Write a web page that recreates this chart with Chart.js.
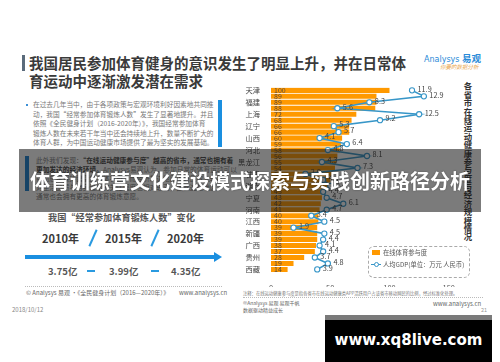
<!DOCTYPE html>
<html><head><meta charset="utf-8">
<script src="https://cdn.jsdelivr.net/npm/chart.js@4.4.1/dist/chart.umd.min.js"></script>
<style>
html,body{margin:0;padding:0;background:#fff;}
body{width:500px;height:362px;overflow:hidden;position:relative;font-family:'Noto Sans CJK SC',sans-serif;}
.a{position:absolute;white-space:nowrap;}
</style></head>
<body>
<script>
const provinces = ['天津','北京','福建','吉林','上海','浙江','辽宁','陕西','山西','重庆','河北','广东','黑龙江','山东','甘肃','海南','湖南','青海','宁夏','湖北','河南','云南','江西','安徽','新疆','四川','广西','内蒙古','贵州','江苏','西藏'];
const participation = [100,89,89,88,72,68,66,66,60,59,58,56,55,54,52,50,48,45,43,42,41,40,40,39,39,39,38,37,28,19,14];
const gdpPerCapita = [11.9,12.9,8.3,5.6,12.5,9.2,5.3,5.7,4.1,6.4,4.8,8.1,4.3,7.3,2.9,4.4,5.0,4.4,4.7,6.1,4.7,3.4,4.5,1.9,4.5,4.4,4.1,4.4,3.7,4.8,3.9];
const xTicks = [0,50,100,150];
const seriesNames = ['在线体育参与度','人均GDP(单位：万元 人民币)'];
</script>

<!-- header -->
<div class="a" style="left:22px;top:55px;width:2.5px;height:16px;background:#5b6b7b"></div>
<div class="a" style="left:29px;top:54px;font-weight:bold;font-size:14.5px;line-height:18px;color:#3a3a3a">我国居民参加体育健身的意识发生了明显上升，并在日常体<br>育运动中逐渐激发潜在需求</div>
<div class="a" style="left:424px;top:51px;font:8px 'DejaVu Sans',sans-serif;color:#2a8bd8">Analysys <b style="font-family:'Noto Sans CJK SC';font-size:9.5px">易观</b></div>
<div class="a" style="left:440px;top:63px;font-style:italic;font-size:5.5px;color:#e8a44a">你要的数据分析</div>

<!-- left text -->
<div class="a" style="left:26px;top:104px;width:2px;height:2px;background:#3b8fd6"></div>
<div class="a" style="left:33px;top:100.3px;font-size:6.7px;line-height:9.5px;color:#777">在过去几年当中，由于各项政策与宏观环境利好因素地共同推<br>动，我国“经常参加体育锻炼人数”发生了显著地提升。并且<br>依照《全民健身计划（2016-2020年）》，我国经常参加体育<br>锻炼人数在未来若干年当中还会持续地上升，数量不断扩大的<br>体育人群，为中国运动健康市场提供了最为坚实的发展基础。</div>
<div class="a" style="left:218px;top:100px;width:4px;height:47px;background:#1a8fe0"></div>

<div class="a" style="left:25px;top:156px;width:4px;height:35px;background:#1a7fd0"></div>
<div class="a" style="left:36px;top:156.2px;font-size:6.7px;line-height:9px;color:#777">此外我们发现：<b style="color:#444">“在线运动健康参与度”越高的省市，通常也拥有着</b><br><b style="color:#444">更加发达的经济环境。</b>Analysys易观认为，参加日常的体育运动可以<br>帮助居民保持健康的身体状态，而经济发达地区的居民收入较高，<br>对生活品质与自身健康的关注程度也相对较高，因此这些地区<br>通常也会拥有更高的体育锻炼意愿。</div>

<!-- infographic -->
<div class="a" style="left:48px;top:211px;font-weight:bold;font-size:9.2px;line-height:12px;color:#555">我国“经常参加体育锻炼人数”变化</div>
<div class="a" style="left:42px;top:230px;font-weight:bold;font-size:11px;line-height:16px;color:#3a3a3a">2010年</div>
<div class="a" style="left:105px;top:230px;font-weight:bold;font-size:11px;line-height:16px;color:#3a3a3a">2015年</div>
<div class="a" style="left:167px;top:230px;font-weight:bold;font-size:11px;line-height:16px;color:#3a3a3a">2020年</div>
<div class="a" style="left:92px;top:229px;width:2px;height:18px;background:#2a9ae0;transform:rotate(24deg)"></div>
<div class="a" style="left:154px;top:229px;width:2px;height:18px;background:#2a9ae0;transform:rotate(24deg)"></div>
<div class="a" style="left:25px;top:255px;width:190px;height:4px;background:#1a8fe0"></div>
<div class="a" style="left:214px;top:252px;width:0;height:0;border-top:5px solid transparent;border-bottom:5px solid transparent;border-left:8px solid #1a8fe0"></div>
<div class="a" style="left:48px;top:264px;font-weight:bold;font-size:9.5px;line-height:14px;color:#555">3.75亿</div>
<div class="a" style="left:109px;top:264px;font-weight:bold;font-size:9.5px;line-height:14px;color:#555">3.99亿</div>
<div class="a" style="left:171px;top:264px;font-weight:bold;font-size:9.5px;line-height:14px;color:#555">4.35亿</div>
<div class="a" style="left:87px;top:270px;width:8px;height:2px;background:#2a9ae0"></div>
<div class="a" style="left:151px;top:270px;width:8px;height:2px;background:#2a9ae0"></div>
<div class="a" style="left:25px;top:286px;width:197px;border-top:1px dotted #bbb"></div>
<div class="a" style="left:26px;top:289px;font-size:6px;line-height:8px;color:#666">© Analysys 易观 ·《全民健身计划（2016—2020年）》</div>
<div class="a" style="left:179px;top:289px;font-size:6px;line-height:8px;color:#666">www.analysys.cn</div>
<div class="a" style="left:12px;top:306px;font-size:6px;line-height:8px;color:#888">2018/10/12</div>

<!-- right footer -->
<div class="a" style="left:243px;top:290px;font-size:4.3px;line-height:6px;color:#777">注释：在线运动健康参与度是指各省市在线运动健康类APP活跃用户占该省市移动网民的比例，经过标准化处理。</div>
<div class="a" style="left:243px;top:297px;width:240px;border-top:1px dotted #bbb"></div>
<div class="a" style="left:243px;top:299px;font-size:5px;line-height:7px;color:#666">©Analysys 易观 易观千帆<br>数据驱动精益成长</div>
<div class="a" style="left:433px;top:300px;font-size:6px;line-height:8px;color:#666">www.analysys.cn</div>
<div class="a" style="left:481px;top:306px;font-size:5.5px;line-height:8px;color:#999">21</div>

<!-- vertical title -->
<div class="a" style="left:463px;top:82px;writing-mode:vertical-rl;font-weight:bold;font-size:8.4px;line-height:10px;color:#333">各省市在线运动健康参与度与经济规模情况</div>

<!-- chart -->
<div class="a" style="left:236px;top:80px;width:222px;height:207px">
<canvas id="c" width="222" height="207"></canvas>
</div>

<!-- legend -->
<div class="a" style="left:368px;top:246px;width:100px;height:30px;border:1px dashed #aaa;border-radius:6px;background:rgba(255,255,255,0.9)"></div>
<div class="a" style="left:372px;top:250px;width:8px;height:5px;background:#ff9900"></div>
<div class="a" id="lg1" style="left:383px;top:248px;font-size:6.3px;line-height:9px;color:#555"></div>
<div class="a" style="left:371px;top:263.5px;width:10px;height:1.5px;background:#3796c8"></div>
<div class="a" style="left:374px;top:262px;width:3px;height:3px;border:1px solid #3796c8;border-radius:50%;background:#fff"></div>
<div class="a" id="lg2" style="left:383px;top:260px;font-size:6.3px;line-height:9px;color:#555"></div>

<!-- banner -->
<div class="a" style="left:19px;top:149px;width:462px;height:63px;background:rgba(20,20,20,0.56)"></div>
<div class="a" style="left:19px;top:149px;width:462px;height:63px;text-align:center;font-weight:bold;font-size:20px;line-height:63px;color:#fff;text-shadow:0 0 2px rgba(0,0,0,0.4)">体育训练营文化建设模式探索与实践创新路径分析</div>

<!-- watermark -->
<div class="a" style="left:325px;top:315px;width:167px;height:42px;border-top:5px solid #7a7a7a;background:#000;text-align:center;font:bold 15px 'DejaVu Sans',sans-serif;line-height:40px;color:#fff">www.xq8live.com</div>

<script>
document.getElementById('lg1').textContent = seriesNames[0];
document.getElementById('lg2').textContent = seriesNames[1];
Chart.defaults.font.family = "'Noto Sans CJK SC', sans-serif";
const labelPlugin = {
  id: 'valLabels',
  afterDatasetDraw(chart, args) {
    const ctx = chart.ctx;
    ctx.save();
    ctx.textBaseline = 'middle';
    ctx.textAlign = 'left';
    if (args.index === 0) {
      ctx.font = "7px 'Noto Sans CJK SC', sans-serif";
      ctx.fillStyle = '#5a4a3a';
      args.meta.data.forEach((el, i) => {
        ctx.fillText(String(participation[i]), el.base + 3, el.y);
      });
    } else if (args.index === 1) {
      ctx.font = "7.3px 'Noto Sans CJK SC', sans-serif";
      ctx.fillStyle = '#444';
      args.meta.data.forEach((pt, i) => {
        ctx.fillText(gdpPerCapita[i].toFixed(1), pt.x + 5.5, pt.y - 1.5);
      });
    }
    ctx.restore();
  }
};
new Chart(document.getElementById('c'), {
  type: 'bar',
  data: {
    labels: provinces,
    datasets: [
      { type: 'bar', label: seriesNames[0], data: participation, backgroundColor: '#ff9900',
        xAxisID: 'x', yAxisID: 'y', categoryPercentage: 0.85, barPercentage: 1, order: 1 },
      { type: 'line', label: seriesNames[1], data: gdpPerCapita, indexAxis: 'y',
        xAxisID: 'x2', yAxisID: 'y', borderColor: '#3796c8', borderWidth: 1.6,
        pointRadius: 2.6, pointBackgroundColor: '#fff', pointBorderColor: '#3796c8',
        pointBorderWidth: 1.1, tension: 0, order: 0 }
    ]
  },
  options: {
    indexAxis: 'y',
    responsive: false,
    animation: false,
    devicePixelRatio: 1,
    layout: { padding: { top: 3.6, right: 8.5, left: 0, bottom: 0 } },
    plugins: { legend: { display: false }, tooltip: { enabled: false } },
    scales: {
      x: {
        type: 'linear', position: 'bottom', min: xTicks[0], max: xTicks[xTicks.length-1],
        afterBuildTicks: s => { s.ticks = xTicks.map(v => ({ value: v })); },
        grid: { display: false }, border: { display: false },
        ticks: { font: { size: 7.5 }, color: '#555', padding: 3 },
        afterFit: s => { s.height = 14.6; }
      },
      x2: { type: 'linear', min: 0, max: 15, display: false },
      y: {
        grid: { display: false }, border: { display: false },
        ticks: { autoSkip: false, font: { size: 7.3 }, color: '#444', padding: 3,
          callback: function(v, i) { return i % 2 === 0 ? this.getLabelForValue(v) : ''; } },
        afterFit: s => { s.width = 35; }
      }
    }
  },
  plugins: [labelPlugin]
});
</script>
</body></html>
